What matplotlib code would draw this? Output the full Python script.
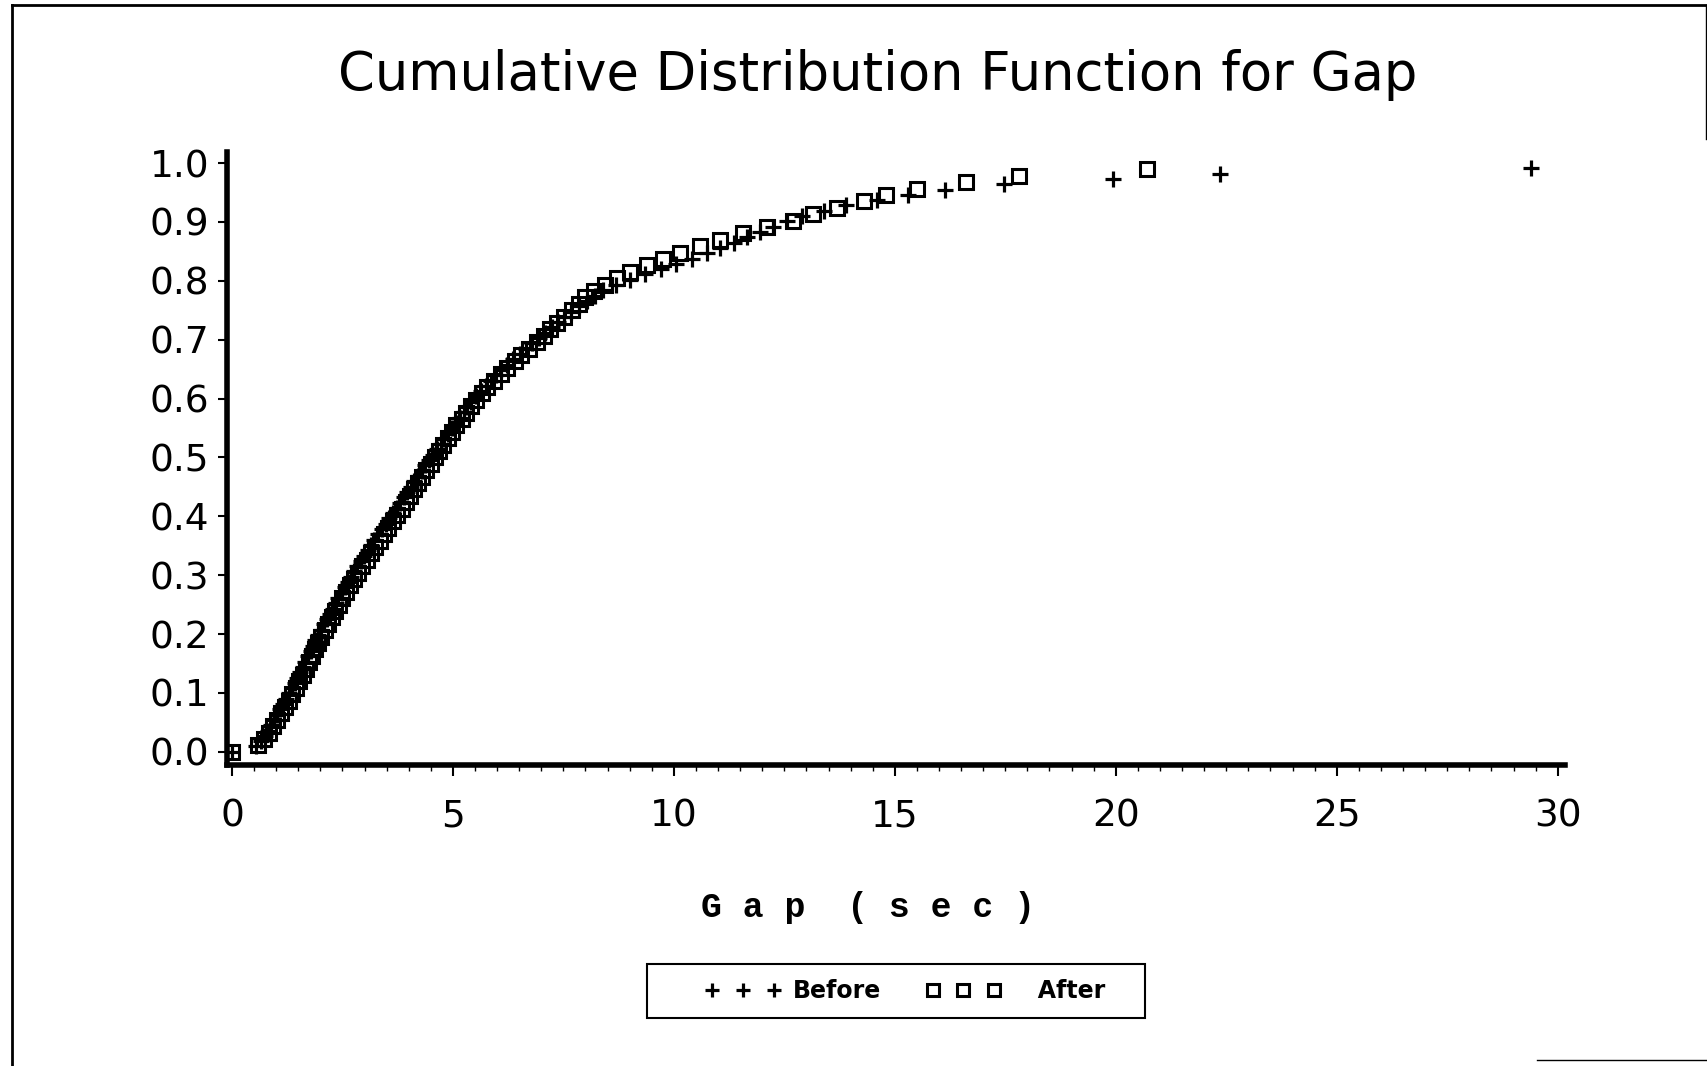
import matplotlib
matplotlib.use('Agg')
import matplotlib.pyplot as plt
import numpy as np
from matplotlib.lines import Line2D
from matplotlib.patches import Rectangle
from matplotlib.ticker import MultipleLocator

# sorted gap values (sec)
before_gap = [
    0.00, 0.55, 0.65, 0.74, 0.81, 0.88, 0.95, 1.02, 1.09, 1.16,
    1.23, 1.29, 1.35, 1.42, 1.48, 1.54, 1.60, 1.66, 1.72, 1.78,
    1.83, 1.89, 1.95, 2.01, 2.08, 2.14, 2.21, 2.28, 2.35, 2.41,
    2.48, 2.55, 2.63, 2.70, 2.77, 2.84, 2.92, 2.99, 3.07, 3.14,
    3.22, 3.31, 3.39, 3.48, 3.56, 3.64, 3.73, 3.81, 3.89, 3.97,
    4.05, 4.13, 4.21, 4.29, 4.37, 4.46, 4.55, 4.63, 4.72, 4.80,
    4.89, 4.97, 5.06, 5.15, 5.24, 5.33, 5.42, 5.52, 5.63, 5.75,
    5.86, 5.98, 6.09, 6.23, 6.37, 6.52, 6.66, 6.80, 6.95, 7.09,
    7.24, 7.38, 7.52, 7.67, 7.85, 8.04, 8.22, 8.40, 8.70, 9.00,
    9.35, 9.70, 10.05, 10.40, 10.75, 11.05, 11.35, 11.65, 11.95, 12.25,
    12.55, 12.90, 13.40, 13.90, 14.60, 15.30, 16.14, 17.48, 19.94, 22.36,
    29.40,
]
after_gap = [
    0.00, 0.58, 0.72, 0.84, 0.94, 1.03, 1.12, 1.20, 1.29, 1.37,
    1.45, 1.52, 1.60, 1.67, 1.74, 1.81, 1.88, 1.95, 2.02, 2.10,
    2.18, 2.26, 2.34, 2.42, 2.50, 2.58, 2.67, 2.76, 2.85, 2.95,
    3.05, 3.15, 3.24, 3.34, 3.44, 3.54, 3.64, 3.74, 3.84, 3.93,
    4.03, 4.12, 4.21, 4.30, 4.40, 4.50, 4.60, 4.69, 4.78, 4.88,
    4.98, 5.08, 5.20, 5.30, 5.42, 5.53, 5.65, 5.78, 5.93, 6.08,
    6.22, 6.40, 6.55, 6.72, 6.90, 7.05, 7.20, 7.35, 7.52, 7.70,
    7.85, 8.00, 8.20, 8.45, 8.71, 9.00, 9.39, 9.75, 10.14, 10.59,
    11.04, 11.56, 12.10, 12.70, 13.15, 13.70, 14.30, 14.80, 15.50, 16.60,
    17.80, 20.70,
]
x_ticks = [0, 5, 10, 15, 20, 25, 30]
y_ticks = [0.0, 0.1, 0.2, 0.3, 0.4, 0.5, 0.6, 0.7, 0.8, 0.9, 1.0]

# empirical CDF: fraction of gaps below each value
before_cdf = np.arange(len(before_gap)) / len(before_gap)
after_cdf = np.arange(len(after_gap)) / len(after_gap)

fig = plt.figure(figsize=(17.08, 10.66), dpi=100)
ax = fig.add_axes([0.1327, 0.2826, 0.7837, 0.5744])

ax.plot(before_gap, before_cdf, linestyle='none', marker='+', ms=12, mew=2.3,
        color='black', label='Before')
ax.plot(after_gap, after_cdf, linestyle='none', marker='s', ms=10.5, mew=2.2,
        mfc='none', mec='black', label='After')

ax.set_xlim(-0.12, 30.17)
ax.set_ylim(-0.022, 1.018)
ax.set_xticks(x_ticks)
ax.xaxis.set_minor_locator(MultipleLocator(0.5))
ax.set_yticks(y_ticks)
ax.set_yticklabels(['%.1f' % v for v in y_ticks])

for side in ['top', 'right']:
    ax.spines[side].set_visible(False)
for side in ['left', 'bottom']:
    ax.spines[side].set_linewidth(4)

ax.tick_params(axis='x', which='major', length=8, width=1.5, pad=16, labelsize=27)
ax.tick_params(axis='x', which='minor', length=4, width=1)
ax.tick_params(axis='y', which='major', length=6.5, width=1.5, pad=6, labelsize=27)

# title and axis label
fig.text(0.514, 0.93, 'Cumulative Distribution Function for Gap',
         ha='center', va='center', fontsize=38)
fig.text(0.508, 0.149, 'G a p  ( s e c )', family='Liberation Mono',
         weight='bold', ha='center', va='center', fontsize=25)

# legend in a plain box below the plot
handles, labels = ax.get_legend_handles_labels()
fig.legend(handles, ['Before', '   After'], loc='center',
           bbox_to_anchor=(0.5300, 0.0704), ncol=2, numpoints=3, frameon=False,
           prop={'weight': 'bold', 'size': 17}, handlelength=3.2,
           handletextpad=0.5, columnspacing=1.9, markerscale=0.8)
fig.add_artist(Rectangle((0.3788, 0.045), 0.2916, 0.0507, transform=fig.transFigure,
                         fill=False, lw=1.5, ec='black'))

# page border
fig.add_artist(Line2D([0.007, 0.007], [0.0, 0.995], transform=fig.transFigure,
                      color='black', lw=2))
fig.add_artist(Line2D([0.007, 1.0], [0.995, 0.995], transform=fig.transFigure,
                      color='black', lw=2))
fig.add_artist(Line2D([0.999, 0.999], [0.995, 0.87], transform=fig.transFigure,
                      color='black', lw=1))
fig.add_artist(Line2D([0.9, 1.0], [0.006, 0.006], transform=fig.transFigure,
                      color='black', lw=1))

fig.savefig('out.png', dpi=100)
